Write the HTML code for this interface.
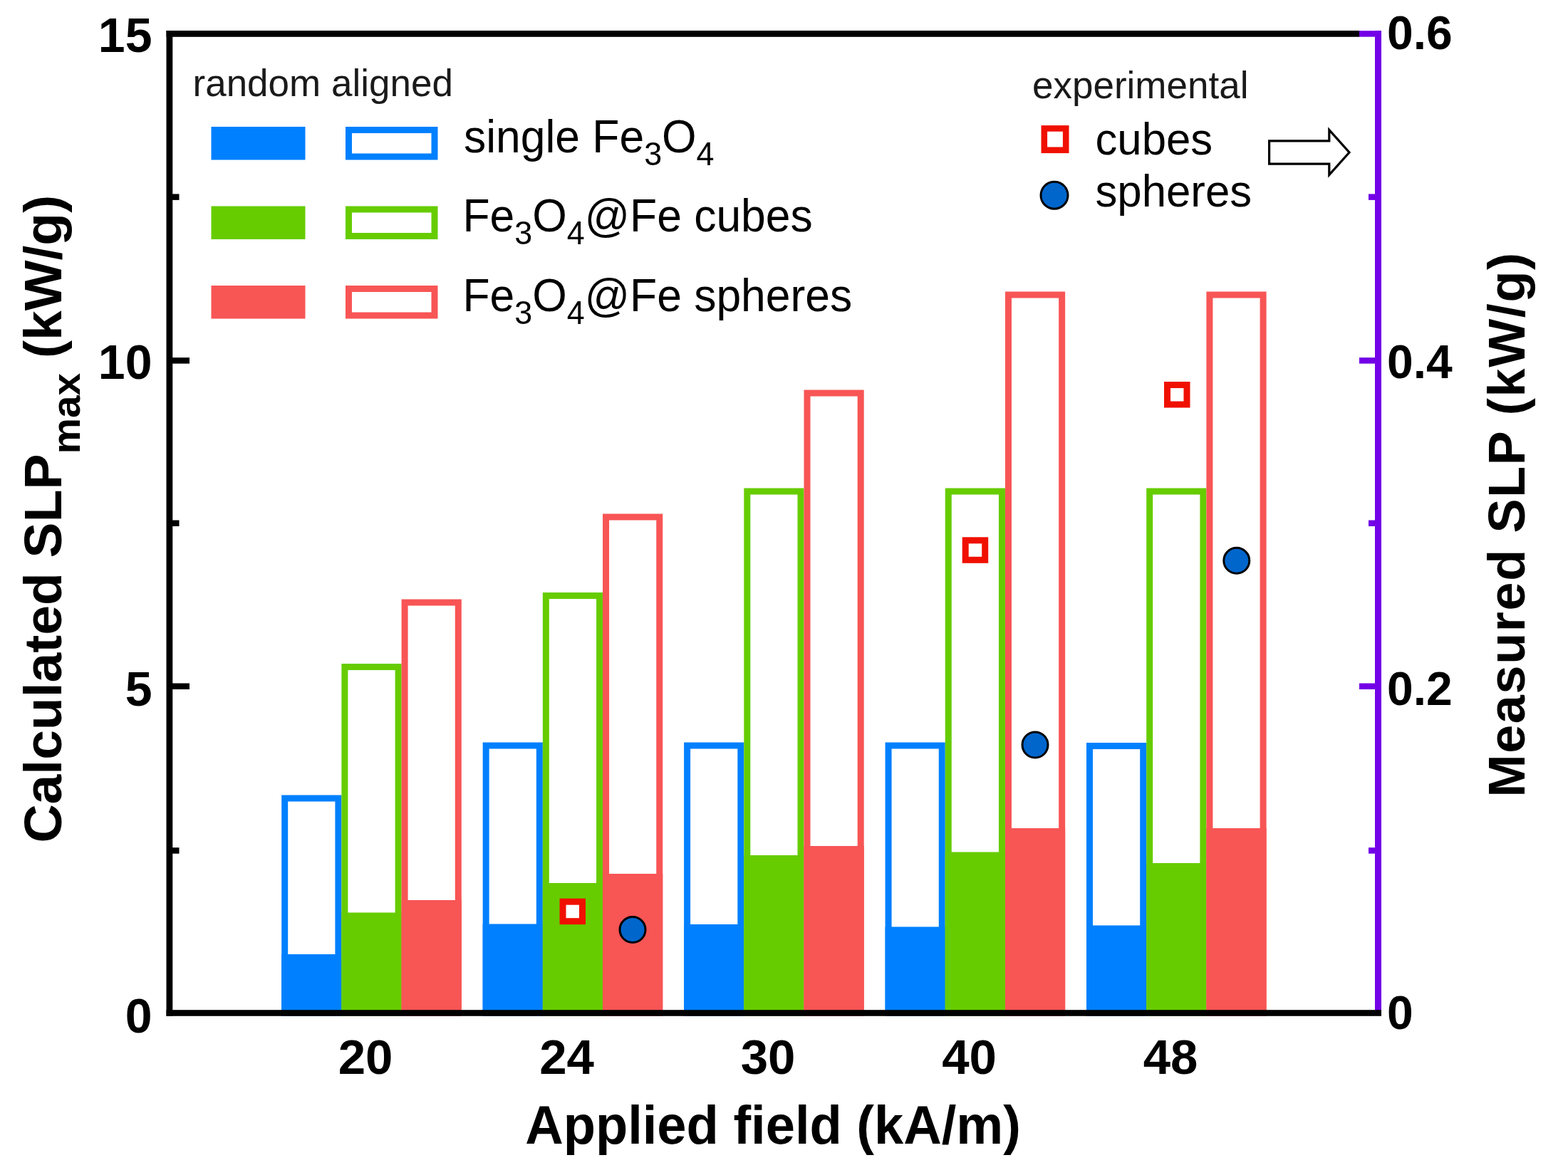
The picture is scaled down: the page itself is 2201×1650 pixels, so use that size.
<!DOCTYPE html><html><head><meta charset="utf-8"><title>SLP chart</title><style>
html,body{margin:0;padding:0;background:#fff;}body{width:2201px;height:1650px;overflow:hidden;}
svg{display:block;}text{font-family:"Liberation Sans", Arial, sans-serif;}
.b{font-weight:bold;}
</style></head><body>
<svg width="2201" height="1650" viewBox="0 0 2201 1650">
<rect x="0" y="0" width="2201" height="1650" fill="#fff"/>
<rect x="399.70" y="1121.00" width="75.20" height="301.50" fill="none" stroke="#0080FF" stroke-width="9"/>
<rect x="395.20" y="1340.00" width="84.20" height="82.50" fill="#0080FF"/>
<rect x="483.90" y="936.50" width="75.20" height="486.00" fill="none" stroke="#66CC00" stroke-width="9"/>
<rect x="479.40" y="1281.50" width="84.20" height="141.00" fill="#66CC00"/>
<rect x="568.10" y="846.00" width="75.20" height="576.50" fill="none" stroke="#F85555" stroke-width="9"/>
<rect x="563.60" y="1264.00" width="84.20" height="158.50" fill="#F85555"/>
<rect x="682.15" y="1047.00" width="75.20" height="375.50" fill="none" stroke="#0080FF" stroke-width="9"/>
<rect x="677.65" y="1297.50" width="84.20" height="125.00" fill="#0080FF"/>
<rect x="766.35" y="836.50" width="75.20" height="586.00" fill="none" stroke="#66CC00" stroke-width="9"/>
<rect x="761.85" y="1240.00" width="84.20" height="182.50" fill="#66CC00"/>
<rect x="850.55" y="726.00" width="75.20" height="696.50" fill="none" stroke="#F85555" stroke-width="9"/>
<rect x="846.05" y="1227.00" width="84.20" height="195.50" fill="#F85555"/>
<rect x="964.60" y="1047.00" width="75.20" height="375.50" fill="none" stroke="#0080FF" stroke-width="9"/>
<rect x="960.10" y="1298.00" width="84.20" height="124.50" fill="#0080FF"/>
<rect x="1048.80" y="690.00" width="75.20" height="732.50" fill="none" stroke="#66CC00" stroke-width="9"/>
<rect x="1044.30" y="1201.00" width="84.20" height="221.50" fill="#66CC00"/>
<rect x="1133.00" y="552.00" width="75.20" height="870.50" fill="none" stroke="#F85555" stroke-width="9"/>
<rect x="1128.50" y="1188.00" width="84.20" height="234.50" fill="#F85555"/>
<rect x="1247.05" y="1047.00" width="75.20" height="375.50" fill="none" stroke="#0080FF" stroke-width="9"/>
<rect x="1242.55" y="1301.50" width="84.20" height="121.00" fill="#0080FF"/>
<rect x="1331.25" y="690.00" width="75.20" height="732.50" fill="none" stroke="#66CC00" stroke-width="9"/>
<rect x="1326.75" y="1196.50" width="84.20" height="226.00" fill="#66CC00"/>
<rect x="1415.45" y="414.00" width="75.20" height="1008.50" fill="none" stroke="#F85555" stroke-width="9"/>
<rect x="1410.95" y="1163.00" width="84.20" height="259.50" fill="#F85555"/>
<rect x="1529.50" y="1047.50" width="75.20" height="375.00" fill="none" stroke="#0080FF" stroke-width="9"/>
<rect x="1525.00" y="1299.50" width="84.20" height="123.00" fill="#0080FF"/>
<rect x="1613.70" y="690.00" width="75.20" height="732.50" fill="none" stroke="#66CC00" stroke-width="9"/>
<rect x="1609.20" y="1212.00" width="84.20" height="210.50" fill="#66CC00"/>
<rect x="1697.90" y="414.00" width="75.20" height="1008.50" fill="none" stroke="#F85555" stroke-width="9"/>
<rect x="1693.40" y="1163.00" width="84.20" height="259.50" fill="#F85555"/>
<rect x="790.0" y="1266.2" width="27.5" height="27.5" fill="#fff" stroke="#F01000" stroke-width="9.0"/>
<circle cx="888.0" cy="1305.5" r="18.0" fill="#0066CC" stroke="#000" stroke-width="3"/>
<rect x="1355.2" y="758.8" width="27.5" height="27.5" fill="#fff" stroke="#F01000" stroke-width="9.0"/>
<circle cx="1453.0" cy="1046.0" r="18.0" fill="#0066CC" stroke="#000" stroke-width="3"/>
<rect x="1638.5" y="540.5" width="27.5" height="27.5" fill="#fff" stroke="#F01000" stroke-width="9.0"/>
<circle cx="1735.8" cy="787.3" r="18.0" fill="#0066CC" stroke="#000" stroke-width="3"/>
<rect x="1930" y="43" width="9" height="1380" fill="#7300E6"/>
<rect x="1908" y="43.2" width="23" height="8.5" fill="#7300E6"/>
<rect x="1921" y="272.4" width="10" height="8.5" fill="#7300E6"/>
<rect x="1908" y="502.1" width="23" height="8.5" fill="#7300E6"/>
<rect x="1921" y="730.5" width="10" height="8.5" fill="#7300E6"/>
<rect x="1908" y="959.5" width="23" height="8.5" fill="#7300E6"/>
<rect x="1921" y="1190.2" width="10" height="8.5" fill="#7300E6"/>
<rect x="233.5" y="43" width="1674.5" height="8.8" fill="#000"/>
<rect x="233.5" y="43" width="8.8" height="1384" fill="#000"/>
<rect x="233.5" y="1418.2" width="1705.5" height="8.6" fill="#000"/>
<rect x="242" y="272.4" width="9.5" height="8.5" fill="#000"/>
<rect x="242" y="502.1" width="24.0" height="8.5" fill="#000"/>
<rect x="242" y="730.5" width="9.5" height="8.5" fill="#000"/>
<rect x="242" y="959.5" width="24.0" height="8.5" fill="#000"/>
<rect x="242" y="1190.2" width="9.5" height="8.5" fill="#000"/>
<text class="b" x="213.5" y="73.0" font-size="68" text-anchor="end">15</text>
<text class="b" x="213.5" y="531.5" font-size="68" text-anchor="end">10</text>
<text class="b" x="213.5" y="991.0" font-size="68" text-anchor="end">5</text>
<text class="b" x="213.5" y="1450.0" font-size="68" text-anchor="end">0</text>
<text class="b" x="1947" y="69.0" font-size="66">0.6</text>
<text class="b" x="1947" y="530.5" font-size="66">0.4</text>
<text class="b" x="1947" y="990.0" font-size="66">0.2</text>
<text class="b" x="1947" y="1445.0" font-size="66">0</text>
<text class="b" x="513.0" y="1507.5" font-size="69" text-anchor="middle">20</text>
<text class="b" x="795.5" y="1507.5" font-size="69" text-anchor="middle">24</text>
<text class="b" x="1078.0" y="1507.5" font-size="69" text-anchor="middle">30</text>
<text class="b" x="1360.5" y="1507.5" font-size="69" text-anchor="middle">40</text>
<text class="b" x="1643.0" y="1507.5" font-size="69" text-anchor="middle">48</text>
<text class="b" transform="translate(1085,1606) scale(0.975,1)" font-size="76" text-anchor="middle">Applied field (kA/m)</text>
<text class="b" transform="translate(86,1183.6) rotate(-90) scale(1.014,1)" font-size="74">Calculated SLP<tspan font-size="56" dy="26">max</tspan><tspan dy="-26"> (kW/g)</tspan></text>
<text class="b" transform="translate(2140,1119.5) rotate(-90)" font-size="72" letter-spacing="1.65">Measured SLP (kW/g)</text>
<text x="270.5" y="134.5" font-size="53" fill="#1a1a1a">random aligned</text>
<rect x="296.5" y="178.0" width="132" height="46.5" fill="#0080FF"/>
<rect x="489.5" y="182.5" width="120.5" height="37.5" fill="none" stroke="#0080FF" stroke-width="9"/>
<rect x="296.5" y="289.5" width="132" height="46.5" fill="#66CC00"/>
<rect x="489.5" y="294.0" width="120.5" height="37.5" fill="none" stroke="#66CC00" stroke-width="9"/>
<rect x="296.5" y="401.0" width="132" height="46.5" fill="#F85555"/>
<rect x="489.5" y="405.5" width="120.5" height="37.5" fill="none" stroke="#F85555" stroke-width="9"/>
<text transform="translate(651,213.6) scale(0.975,1)" font-size="64">single Fe<tspan font-size="46" dy="18.5">3</tspan><tspan dy="-18.5">O</tspan><tspan font-size="46" dy="18.5">4</tspan></text>
<text transform="translate(649.5,324.6) scale(0.975,1)" font-size="64">Fe<tspan font-size="46" dy="18.5">3</tspan><tspan dy="-18.5">O</tspan><tspan font-size="46" dy="18.5">4</tspan><tspan dy="-18.5">@Fe cubes</tspan></text>
<text transform="translate(649.5,436.7) scale(0.975,1)" font-size="64">Fe<tspan font-size="46" dy="18.5">3</tspan><tspan dy="-18.5">O</tspan><tspan font-size="46" dy="18.5">4</tspan><tspan dy="-18.5">@Fe spheres</tspan></text>
<text x="1449" y="138" font-size="53" fill="#1a1a1a">experimental</text>
<rect x="1465.8" y="180.4" width="30.4" height="30.4" fill="#fff" stroke="#F01000" stroke-width="8.6"/>
<circle cx="1480.0" cy="274.2" r="19.0" fill="#0066CC" stroke="#000" stroke-width="3"/>
<text transform="translate(1537.5,217.4) scale(0.98,1)" font-size="63">cubes</text>
<text transform="translate(1537.5,290) scale(0.98,1)" font-size="63">spheres</text>
<path d="M1781.6 197.8 H1865.8 V182.5 L1894 214 L1865.8 245.5 V230.2 H1781.6 Z" fill="#fff" stroke="#000" stroke-width="3.2" stroke-linejoin="miter"/>
</svg></body></html>
